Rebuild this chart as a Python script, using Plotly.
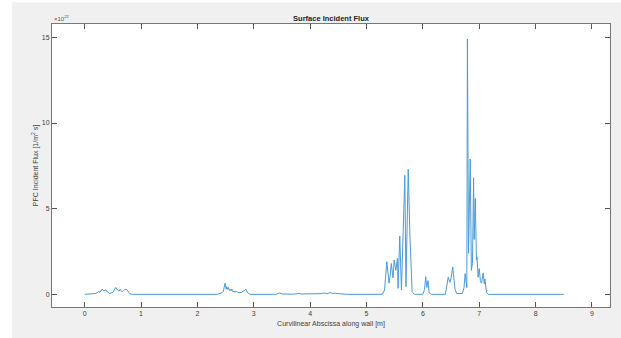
import plotly.graph_objects as go

# Curvilinear abscissa [m] and flux [x1e22 1/m^2 s]
x_m = [0.00, 0.10, 0.20, 0.24, 0.27, 0.31, 0.34, 0.37, 0.40, 0.44, 0.47, 0.50, 0.53, 0.55,
       0.58, 0.61, 0.63, 0.66, 0.69, 0.71, 0.74, 0.77, 0.80, 0.85, 1.50, 2.35, 2.40, 2.44,
       2.46, 2.49, 2.51, 2.52, 2.54, 2.55, 2.57, 2.58, 2.60, 2.61, 2.63, 2.65, 2.67, 2.69,
       2.72, 2.75, 2.78, 2.81, 2.84, 2.86, 2.89, 2.93, 3.40, 3.45, 3.50, 3.70, 3.80, 3.85,
       4.00, 4.05, 4.10, 4.20, 4.25, 4.30, 4.35, 4.40, 4.45, 4.55, 4.65, 5.28, 5.32, 5.36,
       5.40, 5.42, 5.44, 5.47, 5.49, 5.52, 5.55, 5.56, 5.59, 5.62, 5.66, 5.68, 5.70, 5.74,
       5.77, 5.79, 5.81, 5.85, 6.00, 6.03, 6.05, 6.07, 6.09, 6.11, 6.15, 6.40, 6.43, 6.45,
       6.48, 6.50, 6.53, 6.55, 6.57, 6.60, 6.70, 6.73, 6.75, 6.78, 6.79, 6.81, 6.84, 6.86,
       6.88, 6.90, 6.91, 6.93, 6.95, 6.96, 6.98, 7.00, 7.02, 7.04, 7.07, 7.09, 7.10, 7.13,
       7.16, 8.50]
flux = [0.00, 0.01, 0.05, 0.15, 0.12, 0.30, 0.20, 0.25, 0.18, 0.05, 0.08, 0.12, 0.28, 0.40,
        0.26, 0.18, 0.30, 0.15, 0.22, 0.28, 0.30, 0.12, 0.03, 0.00, 0.00, 0.00, 0.05, 0.10,
        0.18, 0.65, 0.30, 0.45, 0.28, 0.40, 0.22, 0.30, 0.20, 0.30, 0.15, 0.18, 0.12, 0.20,
        0.10, 0.12, 0.10, 0.18, 0.22, 0.30, 0.10, 0.00, 0.00, 0.08, 0.02, 0.01, 0.05, 0.02,
        0.03, 0.06, 0.02, 0.04, 0.08, 0.03, 0.10, 0.05, 0.06, 0.02, 0.00, 0.00, 0.25, 1.90,
        0.65, 1.10, 1.80, 0.95, 2.00, 1.40, 2.10, 0.35, 3.40, 0.25, 5.50, 6.95, 0.45, 7.30,
        3.40, 1.40, 0.15, 0.00, 0.00, 0.30, 1.03, 0.40, 0.80, 0.10, 0.00, 0.00, 0.50, 1.00,
        0.70, 0.95, 1.60, 0.80, 0.30, 0.05, 0.05, 0.40, 1.20, 0.40, 14.90, 2.40, 7.90, 1.40,
        1.80, 6.80, 3.20, 5.60, 2.00, 2.20, 1.00, 1.50, 0.80, 0.65, 1.25, 0.60, 0.90, 0.10,
        0.00, 0.00]

x_ticks = [0, 1, 2, 3, 4, 5, 6, 7, 8, 9]
y_ticks = [0, 5, 10, 15]

FONT = "Liberation Sans, Arial, sans-serif"
TXT = "#404040"

fig = go.Figure()
fig.add_trace(go.Scatter(x=x_m, y=flux, mode="lines",
                         line=dict(color="#4a9bd8", width=1), showlegend=False))

fig.update_layout(
    width=621, height=338,
    margin=dict(l=52, r=11, t=24, b=31, autoexpand=False),
    paper_bgcolor="#f0f0f0",
    plot_bgcolor="#ffffff",
    font=dict(family=FONT, size=7, color=TXT),
    title=dict(text="<b>Surface Incident Flux</b>", x=0.5, xref="paper",
               xanchor="center", y=1, yref="paper", yanchor="bottom",
               pad=dict(b=3), font=dict(size=7.5, color="#222222")),
    xaxis=dict(range=[-0.58, 9.32], tickvals=x_ticks, ticks="inside", ticklen=5,
               tickcolor="#555555", showline=True, mirror="ticks", automargin=False,
               linecolor="#777777", linewidth=1, showgrid=False, zeroline=False,
               tickfont=dict(size=7, color=TXT),
               title=dict(text="Curvilinear Abscissa along wall [m]", standoff=4,
                          font=dict(size=7, color=TXT))),
    yaxis=dict(range=[-0.74, 15.78], tickvals=y_ticks, ticks="inside", ticklen=5,
               tickcolor="#555555", showline=True, mirror="ticks", automargin=False,
               linecolor="#777777", linewidth=1, showgrid=False, zeroline=False,
               tickfont=dict(size=7, color=TXT),
               title=dict(text="PFC Incident Flux [1/m<sup>2</sup> s]", standoff=2,
                          font=dict(size=7, color=TXT))),
    shapes=[
        dict(type="rect", xref="paper", yref="paper", x0=-0.2, x1=-0.0715,
             y0=-0.2, y1=1.3, fillcolor="#ffffff", line=dict(width=0), layer="below"),
        dict(type="rect", xref="paper", yref="paper", x0=-0.2, x1=1.2,
             y0=1.0765, y1=1.3, fillcolor="#ffffff", line=dict(width=0), layer="below"),
    ],
    annotations=[
        dict(text="\u00d710<sup>22</sup>", x=0, y=1, xref="paper", yref="paper",
             xanchor="left", yanchor="bottom", showarrow=False,
             font=dict(size=6, color="#555555"), yshift=0),
    ],
)

fig.write_html(
    "out.html",
    config={"displayModeBar": False},
    post_script="document.body.style.margin='0';document.body.style.overflow='hidden';",
)
